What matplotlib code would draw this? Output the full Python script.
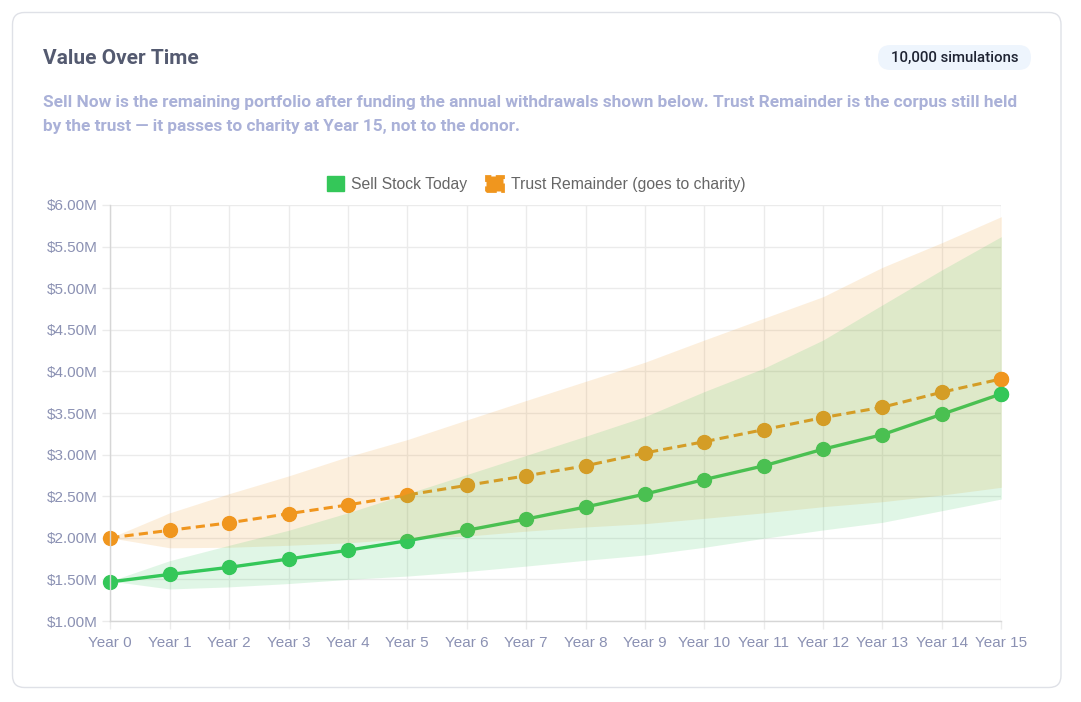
import matplotlib
matplotlib.use("Agg")
import matplotlib.pyplot as plt
from matplotlib.patches import FancyBboxPatch, Patch
from matplotlib.transforms import IdentityTransform

# values in $ millions
years = list(range(16))
year_labels = [f"Year {y}" for y in years]

sell_now = [1.47, 1.56, 1.645, 1.745, 1.85, 1.965, 2.09, 2.225, 2.37, 2.525,
            2.70, 2.865, 3.065, 3.24, 3.485, 3.73]
sell_hi = [1.48, 1.725, 1.91, 2.09, 2.30, 2.53, 2.76, 2.99, 3.22, 3.456,
           3.757, 4.037, 4.377, 4.80, 5.22, 5.62]
sell_lo = [1.48, 1.385, 1.41, 1.45, 1.50, 1.54, 1.595, 1.66, 1.73, 1.793,
           1.886, 1.994, 2.094, 2.186, 2.326, 2.466]

trust = [2.00, 2.09, 2.18, 2.29, 2.395, 2.515, 2.63, 2.745, 2.865, 3.02,
         3.155, 3.30, 3.445, 3.57, 3.75, 3.91]
trust_hi = [2.00, 2.30, 2.53, 2.743, 2.975, 3.18, 3.416, 3.65, 3.88, 4.11,
            4.377, 4.638, 4.898, 5.251, 5.547, 5.86]
trust_lo = [2.00, 1.88, 1.886, 1.91, 1.94, 1.99, 2.02, 2.08, 2.13, 2.17,
            2.234, 2.30, 2.374, 2.434, 2.514, 2.607]

y_ticks = [1.0, 1.5, 2.0, 2.5, 3.0, 3.5, 4.0, 4.5, 5.0, 5.5, 6.0]

GREEN = "#34C759"
ORANGE = "#F0961E"
TICK_COL = "#8b91b3"
GRID_COL = "#ebebeb"

W, H = 1081, 702
fig = plt.figure(figsize=(W / 100, H / 100), dpi=100)
fig.patch.set_facecolor("white")

def fx(px):
    return px / W

def fy(py):
    return 1 - py / H

# card outline
card = FancyBboxPatch((12.5, H - 687.5), 1048.5, 675,
                      boxstyle="round,pad=0,rounding_size=12",
                      transform=IdentityTransform(), facecolor="white",
                      edgecolor="#dfe1e7", lw=1.0, zorder=0)
fig.add_artist(card)

fig.text(fx(43), fy(58), "Value Over Time", fontsize=15, fontweight="semibold",
         color="#545a70", family="Roboto", va="center", ha="left")

badge = FancyBboxPatch((878, H - 70), 153, 25,
                       boxstyle="round,pad=0,rounding_size=12.5",
                       transform=IdentityTransform(), facecolor="#eef5fd",
                       edgecolor="none", zorder=1)
fig.add_artist(badge)
fig.text(fx(954.5), fy(57.5), "10,000 simulations", fontsize=10.8, color="#1f2433",
         family="Roboto", fontweight="medium", va="center", ha="center", zorder=2)

sub1 = ("Sell Now is the remaining portfolio after funding the annual withdrawals shown below. "
        "Trust Remainder is the corpus still held")
sub2 = "by the trust \u2014 it passes to charity at Year 15, not to the donor."
for txt, ypx in [(sub1, 103), (sub2, 126)]:
    fig.text(fx(43), fy(ypx), txt, fontsize=12.45, fontweight="semibold",
             color="#aab1d8", family="Roboto", va="center", ha="left")

ax = fig.add_axes([fx(110.3), fy(621), (1001.3 - 110.3) / W, (621 - 205) / H])
ax.set_facecolor("none")

ax.plot(years, trust, color=ORANGE, lw=2.2, ls=(0, (3, 1.7)), marker="o", ms=10,
        mec=ORANGE, zorder=2, clip_on=False)
ax.plot(years, sell_now, color=GREEN, lw=2.4, marker="o", ms=10, mec=GREEN,
        zorder=2, clip_on=False)

ax.fill_between(years, trust_lo, trust_hi, color=ORANGE, alpha=0.15, lw=0, zorder=3)
ax.fill_between(years, sell_lo, sell_hi, color=GREEN, alpha=0.15, lw=0, zorder=3)

# final points sit above the bands in the original
ax.plot(years[-1:], trust[-1:], "o", color=ORANGE, ms=10, zorder=5, clip_on=False)
ax.plot(years[-1:], sell_now[-1:], "o", color=GREEN, ms=10, zorder=5, clip_on=False)

ax.set_xlim(0, 15)
ax.set_ylim(1, 6)
ax.set_xticks(years)
ax.set_xticklabels(year_labels)
ax.set_yticks(y_ticks)
ax.set_yticklabels([f"${v:.2f}M" for v in y_ticks])
ax.grid(True, color=GRID_COL, lw=1, zorder=0)
ax.set_axisbelow(True)
for side in ["top", "right"]:
    ax.spines[side].set_visible(False)
for side in ["left", "bottom"]:
    ax.spines[side].set_color("#d6d6d6")
    ax.spines[side].set_linewidth(1)
ax.tick_params(axis="both", length=6, width=1, color=GRID_COL, labelcolor=TICK_COL,
               labelsize=11)
ax.tick_params(axis="y", pad=3)
ax.tick_params(axis="x", pad=5)
for lab in ax.get_xticklabels() + ax.get_yticklabels():
    lab.set_family("Liberation Sans")

handles = [Patch(facecolor=GREEN, edgecolor=GREEN),
           Patch(facecolor=ORANGE, edgecolor=ORANGE, linestyle="--", lw=2)]
leg = fig.legend(handles, ["Sell Stock Today", "Trust Remainder (goes to charity)"],
                 loc="center", bbox_to_anchor=(fx(536), fy(184)), ncol=2, frameon=False,
                 prop={"family": "Liberation Sans", "size": 11.3},
                 handlelength=1.1, handleheight=1.1, handletextpad=0.45,
                 columnspacing=1.2, borderpad=0)
for t in leg.get_texts():
    t.set_color("#666666")

fig.savefig("out.png", dpi=100)
